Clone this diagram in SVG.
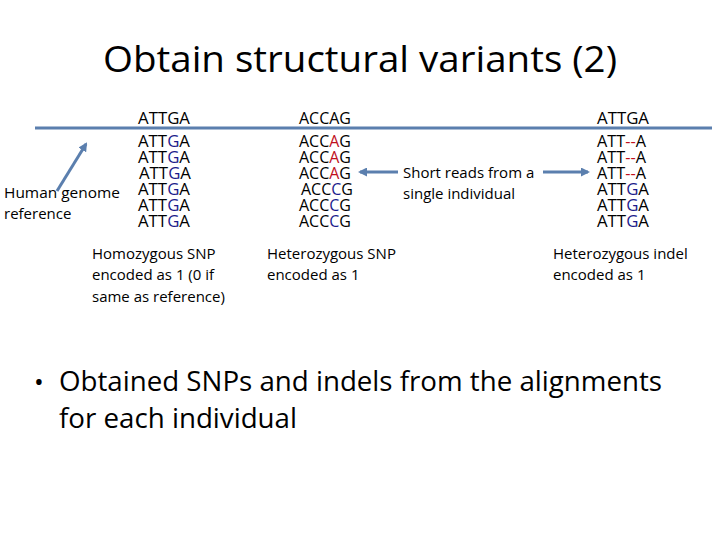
<svg xmlns="http://www.w3.org/2000/svg" width="720" height="540" viewBox="0 0 720 540">
<style>
text{font-family:"Open Sans","Liberation Sans",sans-serif;fill:#000}
.seq{font-size:15.5px}
.lbl{font-size:15px}
.b{fill:#1c1c8c}
.r{fill:#c0101c}
.ln{stroke:#5b7fae;stroke-width:3;fill:none}
</style>
<defs>
<marker id="ah" markerWidth="9" markerHeight="9" refX="7" refY="4.5" orient="auto" markerUnits="userSpaceOnUse">
<path d="M0,0 L9,4.5 L0,9 Z" fill="#5b7fae"/>
</marker>
</defs>
<rect width="720" height="540" fill="#fff"/>
<g id="title"><text x="360" y="72" font-size="36" text-anchor="middle" textLength="514" lengthAdjust="spacingAndGlyphs">Obtain structural variants (2)</text></g>
<g id="connectors">
<line class="ln" x1="35" y1="128" x2="712" y2="128"/>
<line class="ln" x1="57" y1="191" x2="86" y2="144" marker-end="url(#ah)"/>
<line class="ln" x1="398" y1="172" x2="360" y2="172" marker-end="url(#ah)"/>
<line class="ln" x1="543" y1="172" x2="588" y2="172" marker-end="url(#ah)"/>
</g>
<g id="ref-label"><text class="lbl" x="4" y="198" textLength="116" lengthAdjust="spacingAndGlyphs">Human genome</text><text class="lbl" x="4" y="219">reference</text></g>
<g id="col1">
<text class="seq" x="138" y="124" textLength="52" lengthAdjust="spacingAndGlyphs">ATTGA</text>
<text class="seq" x="138" y="147" textLength="52" lengthAdjust="spacingAndGlyphs">ATT<tspan class="b">G</tspan>A</text>
<text class="seq" x="138" y="163" textLength="52" lengthAdjust="spacingAndGlyphs">ATT<tspan class="b">G</tspan>A</text>
<text class="seq" x="139" y="179" textLength="52" lengthAdjust="spacingAndGlyphs">ATT<tspan class="b">G</tspan>A</text>
<text class="seq" x="138" y="195" textLength="52" lengthAdjust="spacingAndGlyphs">ATT<tspan class="b">G</tspan>A</text>
<text class="seq" x="138" y="211" textLength="52" lengthAdjust="spacingAndGlyphs">ATT<tspan class="b">G</tspan>A</text>
<text class="seq" x="138" y="227" textLength="52" lengthAdjust="spacingAndGlyphs">ATT<tspan class="b">G</tspan>A</text>
</g>
<g id="col2">
<text class="seq" x="299" y="124" textLength="52" lengthAdjust="spacingAndGlyphs">ACCAG</text>
<text class="seq" x="299" y="147" textLength="52" lengthAdjust="spacingAndGlyphs">ACC<tspan class="r">A</tspan>G</text>
<text class="seq" x="299" y="163" textLength="52" lengthAdjust="spacingAndGlyphs">ACC<tspan class="r">A</tspan>G</text>
<text class="seq" x="299" y="179" textLength="52" lengthAdjust="spacingAndGlyphs">ACC<tspan class="r">A</tspan>G</text>
<text class="seq" x="301" y="195" textLength="52" lengthAdjust="spacingAndGlyphs">ACC<tspan class="b">C</tspan>G</text>
<text class="seq" x="299" y="211" textLength="52" lengthAdjust="spacingAndGlyphs">ACC<tspan class="b">C</tspan>G</text>
<text class="seq" x="299" y="227" textLength="52" lengthAdjust="spacingAndGlyphs">ACC<tspan class="b">C</tspan>G</text>
</g>
<g id="col3">
<text class="seq" x="597" y="124" textLength="52" lengthAdjust="spacingAndGlyphs">ATTGA</text>
<text class="seq" x="597" y="147" textLength="49" lengthAdjust="spacingAndGlyphs">ATT<tspan class="r">--</tspan>A</text>
<text class="seq" x="597" y="163" textLength="49" lengthAdjust="spacingAndGlyphs">ATT<tspan class="r">--</tspan>A</text>
<text class="seq" x="597" y="179" textLength="49" lengthAdjust="spacingAndGlyphs">ATT<tspan class="r">--</tspan>A</text>
<text class="seq" x="597" y="195" textLength="52" lengthAdjust="spacingAndGlyphs">ATT<tspan class="b">G</tspan>A</text>
<text class="seq" x="597" y="211" textLength="52" lengthAdjust="spacingAndGlyphs">ATT<tspan class="b">G</tspan>A</text>
<text class="seq" x="597" y="227" textLength="52" lengthAdjust="spacingAndGlyphs">ATT<tspan class="b">G</tspan>A</text>
</g>
<g id="reads-label"><text class="lbl" x="403" y="178">Short reads from a</text><text class="lbl" x="403" y="199">single individual</text></g>
<g id="homo-label"><text class="lbl" x="92" y="259">Homozygous SNP</text><text class="lbl" x="92" y="280">encoded as 1 (0 if</text><text class="lbl" x="92" y="302">same as reference)</text></g>
<g id="hetsnp-label"><text class="lbl" x="267" y="259">Heterozygous SNP</text><text class="lbl" x="267" y="280">encoded as 1</text></g>
<g id="hetindel-label"><text class="lbl" x="553" y="259">Heterozygous indel</text><text class="lbl" x="553" y="280">encoded as 1</text></g>
<g id="bullet">
<text x="34" y="391" font-size="26">•</text>
<text x="59" y="391" font-size="27" textLength="603" lengthAdjust="spacingAndGlyphs">Obtained SNPs and indels from the alignments</text>
<text x="59" y="428" font-size="27" textLength="238" lengthAdjust="spacingAndGlyphs">for each individual</text>
</g>
</svg>
